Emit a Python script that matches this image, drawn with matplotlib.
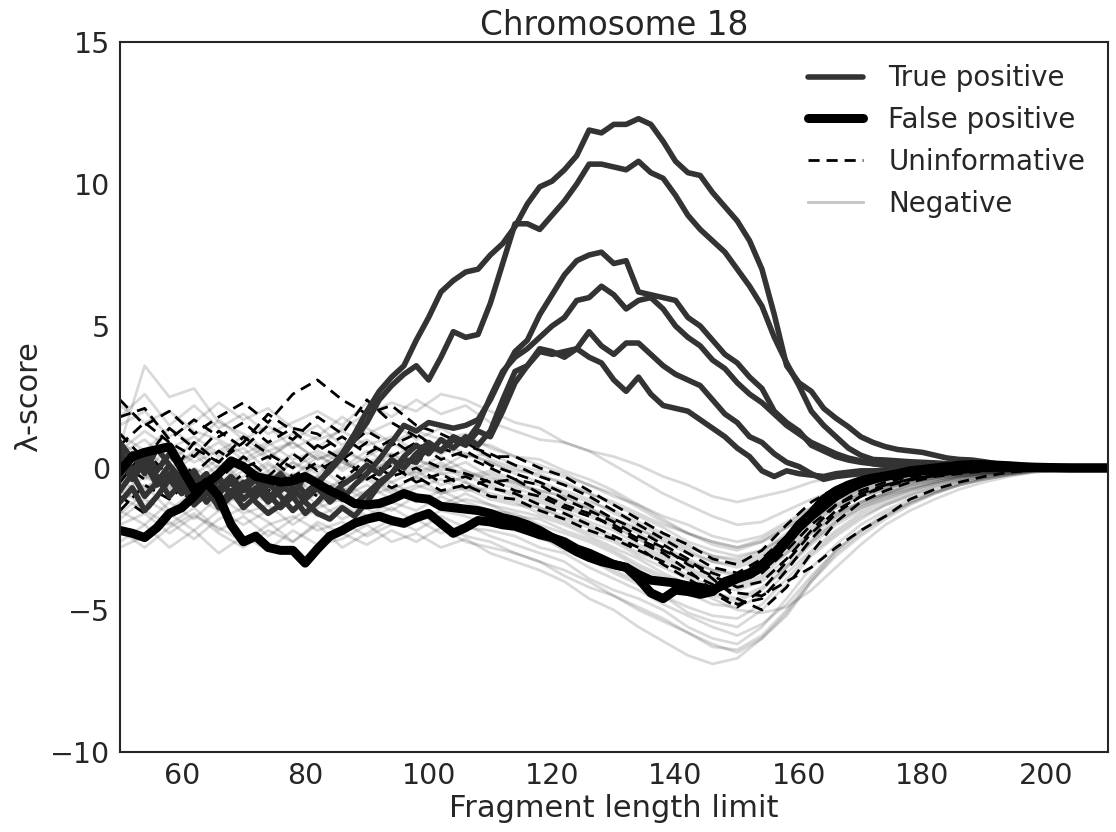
import numpy as np
import matplotlib
matplotlib.use('Agg')
import matplotlib.pyplot as plt
from matplotlib.lines import Line2D

# fragment length grids
x_fine = np.arange(50, 211, 2)     # true / false positives
x_coarse = np.arange(50, 211, 4)   # negatives / uninformative

# true positives (dark grey, thick)
true_positive = [
    [0.3, -0.4, 0.2, -0.6, -0.2, -0.9, -0.5, -1.2, -0.7, -0.3,
     -0.8, -0.4, -1.1, -0.6, -0.9, -0.3, -0.6, 0.0, 0.5, 1.2,
     2.0, 2.7, 3.2, 3.6, 4.5, 5.3, 6.2, 6.6, 6.9, 7.0,
     7.5, 7.9, 8.5, 9.3, 9.9, 10.1, 10.5, 11.0, 11.9, 11.8,
     12.1, 12.1, 12.3, 12.1, 11.5, 10.8, 10.4, 10.3, 9.7, 9.2,
     8.7, 8.0, 7.0, 5.4, 3.6, 3.0, 2.7, 2.1, 1.75, 1.45,
     1.1, 0.9, 0.75, 0.65, 0.6, 0.55, 0.45, 0.35, 0.3, 0.28,
     0.22, 0.15, 0.1, 0.06, 0.04, 0.02, 0.01, 0.0, 0.0, 0.0,
     0.0],
    [-0.8, -0.2, -1.0, -0.5, 0.1, -0.4, -1.1, -0.7, -1.4, -1.0,
     -0.6, -1.2, -1.6, -1.3, -0.8, -1.1, -0.5, -0.1, 0.4, 1.0,
     1.6, 2.4, 2.9, 3.3, 3.6, 3.1, 3.9, 4.8, 4.6, 4.7,
     5.8, 7.2, 8.6, 8.6, 8.4, 8.9, 9.4, 10.0, 10.7, 10.7,
     10.6, 10.5, 10.8, 10.4, 10.2, 9.6, 8.9, 8.4, 8.0, 7.6,
     7.0, 6.4, 5.7, 4.6, 3.7, 2.9, 2.0, 1.5, 1.1, 0.7,
     0.45, 0.3, 0.28, 0.25, 0.22, 0.2, 0.18, 0.15, 0.12, 0.1,
     0.08, 0.06, 0.05, 0.03, 0.02, 0.01, 0.0, 0.0, 0.0, 0.0,
     0.0],
    [-0.3, 0.5, -0.2, 0.7, 0.1, -0.6, -0.1, -0.8, -0.3, -1.0,
     -0.6, -0.2, -0.9, -1.4, -1.0, -1.6, -1.2, -0.7, -1.1, -0.6,
     -0.2, 0.3, 0.9, 1.5, 1.3, 1.6, 1.5, 1.4, 1.5, 1.7,
     2.4, 3.3, 4.1, 4.5, 5.4, 6.1, 6.8, 7.3, 7.5, 7.6,
     7.2, 7.3, 6.2, 6.1, 6.0, 5.9, 5.3, 5.0, 4.5, 4.0,
     3.7, 3.2, 2.8, 2.0, 1.6, 1.3, 0.8, 0.6, 0.4, 0.28,
     0.2, 0.15, 0.1, 0.08, 0.06, 0.05, 0.04, 0.03, 0.02, 0.02,
     0.01, 0.01, 0.0, 0.0, 0.0, 0.0, 0.0, 0.0, 0.0, 0.0,
     0.0],
    [0.6, -0.1, 0.4, -0.3, -1.0, -0.5, -1.3, -0.9, -0.4, -0.9,
     -0.5, -1.0, -0.6, -0.2, -0.7, -1.2, -1.6, -1.8, -1.4, -1.7,
     -1.2, -0.6, -0.2, 0.3, 0.2, 0.8, 0.6, 1.1, 0.9, 1.5,
     2.5, 3.4, 3.9, 4.2, 4.6, 5.0, 5.3, 5.9, 6.0, 6.4,
     6.1, 5.6, 5.9, 6.0, 5.6, 5.0, 4.6, 4.3, 3.8, 3.5,
     3.0, 2.6, 2.3, 1.9, 1.5, 1.2, 0.9, 0.7, 0.5, 0.35,
     0.25, 0.15, 0.1, 0.05, 0.02, 0.0, 0.0, 0.0, 0.0, 0.0,
     0.0, 0.0, 0.0, 0.0, 0.0, 0.0, 0.0, 0.0, 0.0, 0.0,
     0.0],
    [-1.2, -0.7, -1.5, -1.0, -0.4, -0.9, -0.3, -0.8, -1.3, -0.8,
     -1.4, -1.0, -0.5, -1.0, -1.5, -1.1, -0.7, -1.2, -0.8, -1.3,
     -0.9, -0.5, -0.2, 0.4, 0.8, 0.5, 1.0, 0.7, 1.1, 0.8,
     1.3, 2.4, 3.4, 3.6, 4.2, 4.1, 3.9, 4.2, 4.8, 4.3,
     4.0, 4.4, 4.4, 4.0, 3.6, 3.3, 3.1, 2.9, 2.4, 1.9,
     1.6, 1.1, 0.9, 0.5, 0.2, 0.05, -0.2, -0.4, -0.3, -0.25,
     -0.2, -0.15, -0.1, -0.08, -0.06, -0.05, -0.04, -0.03, -0.02, -0.02,
     -0.01, -0.01, 0.0, 0.0, 0.0, 0.0, 0.0, 0.0, 0.0, 0.0,
     0.0],
    [0.9, 0.3, 0.6, -0.1, 0.5, 0.0, -0.6, -0.2, -0.9, -0.5,
     -1.1, -0.7, -1.2, -0.8, -0.4, -0.9, -0.5, -1.0, -0.6, -0.3,
     0.1, -0.2, 0.3, 0.0, 0.5, 0.9, 0.6, 1.0, 0.8, 1.3,
     1.1, 2.0, 3.0, 3.6, 4.1, 4.0, 4.1, 4.2, 3.9, 3.7,
     3.1, 2.7, 3.2, 2.6, 2.2, 2.1, 2.0, 1.7, 1.4, 1.1,
     0.7, 0.4, -0.1, -0.3, -0.1, -0.2, -0.25, -0.3, -0.2, -0.15,
     -0.1, -0.1, -0.08, -0.06, -0.05, -0.04, -0.03, -0.02, -0.02, -0.01,
     0.0, 0.0, 0.0, 0.0, 0.0, 0.0, 0.0, 0.0, 0.0, 0.0,
     0.0],
]

# false positives (black, thickest)
false_positive = [
    [-2.2, -2.3, -2.45, -2.1, -1.6, -1.4, -1.0, -0.5, -1.0, -2.0,
     -2.6, -2.4, -2.8, -2.9, -2.9, -3.35, -2.85, -2.4, -2.2, -1.95,
     -1.8, -1.7, -1.85, -1.95, -1.75, -1.6, -1.95, -2.3, -2.1, -1.85,
     -1.9, -2.0, -2.05, -2.2, -2.35, -2.45, -2.7, -2.95, -3.15, -3.3,
     -3.4, -3.5, -3.9, -4.4, -4.6, -4.3, -4.35, -4.45, -4.35, -4.0,
     -3.85, -3.7, -3.4, -3.0, -2.55, -2.0, -1.6, -1.1, -0.8, -0.6,
     -0.45, -0.35, -0.28, -0.2, -0.1, -0.05, 0.0, 0.05, 0.1, 0.12,
     0.12, 0.1, 0.08, 0.05, 0.03, 0.02, 0.01, 0.0, 0.0, 0.0,
     0.0],
    [-0.1, 0.4, 0.55, 0.65, 0.75, 0.0, -0.75, -0.55, -0.2, 0.25,
     0.05, -0.3, -0.4, -0.5, -0.45, -0.3, -0.55, -0.8, -1.0, -1.25,
     -1.3, -1.25, -1.1, -0.9, -1.05, -1.1, -1.35, -1.4, -1.45, -1.5,
     -1.6, -1.75, -1.85, -2.0, -2.2, -2.45, -2.6, -2.85, -3.0, -3.2,
     -3.4, -3.5, -3.75, -3.95, -4.0, -4.05, -4.15, -4.2, -4.3, -4.1,
     -3.9, -3.75, -3.5, -3.1, -2.6, -2.1, -1.7, -1.35, -1.0, -0.75,
     -0.55, -0.4, -0.3, -0.22, -0.15, -0.1, -0.05, -0.02, 0.0, 0.02,
     0.03, 0.03, 0.02, 0.02, 0.01, 0.0, 0.0, 0.0, 0.0, 0.0,
     0.0],
]

# uninformative (black dashed)
uninformative = [
    [2.4, 1.5, 2.0, 1.2, 1.8, 2.3, 1.6, 2.6, 3.1, 2.4,
     1.9, 2.2, 1.5, 1.2, 0.8, 0.5, 0.1, -0.3, -0.6, -1.0,
     -1.5, -2.0, -2.5, -3.0, -3.5, -3.7, -3.2, -2.4, -1.5, -0.9,
     -0.6, -0.4, -0.25, -0.15, -0.1, -0.05, 0, 0, 0, 0, 0],
    [0.8, 1.6, 0.9, 0.4, 1.3, 0.7, 1.5, 1.0, 1.8, 1.2,
     2.4, 1.6, 1.1, 0.7, 0.4, 0.0, -0.4, -0.6, -1.1, -1.5,
     -1.9, -2.4, -2.8, -3.4, -3.8, -4.2, -4.0, -3.2, -2.2, -1.3,
     -0.8, -0.5, -0.3, -0.2, -0.1, -0.05, -0.02, 0, 0, 0, 0],
    [-0.5, 0.6, -0.3, 0.9, 0.2, 1.1, 0.5, 0.0, 0.8, 0.3,
     0.9, 0.4, 0.9, 0.3, 0.6, 0.1, -0.2, -0.5, -0.9, -1.3,
     -1.8, -2.2, -2.7, -3.2, -3.9, -4.6, -5.0, -4.2, -3.0, -1.9,
     -1.2, -0.8, -0.5, -0.3, -0.2, -0.1, -0.05, -0.02, 0, 0, 0],
    [-1.5, -0.6, -1.1, -0.3, -0.9, -0.2, -0.8, -0.4, -1.0, -0.5,
     -0.2, -0.7, -0.3, -0.8, -0.6, -1.0, -1.1, -1.5, -1.8, -2.2,
     -2.5, -2.9, -3.3, -3.7, -4.1, -4.4, -4.5, -4.0, -3.5, -2.8,
     -2.2, -1.7, -1.1, -0.75, -0.5, -0.3, -0.15, -0.08, -0.03, 0, 0],
    [1.2, 0.3, 1.4, 0.7, 0.2, 0.9, 1.9, 1.3, 0.6, 1.1,
     0.5, 1.0, 0.4, 0.0, -0.2, -0.5, -0.4, -0.9, -1.3, -1.6,
     -2.1, -2.6, -3.0, -3.6, -4.3, -4.8, -4.6, -3.6, -2.5, -1.6,
     -1.0, -0.6, -0.4, -0.25, -0.15, -0.08, -0.04, -0.02, 0, 0, 0],
    [-1.0, -1.6, -0.5, -1.2, -0.4, 0.4, -0.3, 0.5, -0.1, 0.4,
     -0.4, 0.1, -0.5, -0.2, -0.7, -0.4, -0.8, -1.0, -1.4, -1.7,
     -2.0, -2.5, -2.9, -3.3, -3.7, -4.0, -3.7, -2.9, -2.0, -1.3,
     -0.9, -0.6, -0.4, -0.25, -0.15, -0.08, -0.04, -0.02, 0, 0, 0],
    [1.8, 2.1, 1.0, 1.7, 1.1, 1.6, 0.9, 1.4, 1.2, 0.6,
     1.3, 0.8, 1.2, 0.6, 0.9, 0.4, 0.4, 0.0, -0.3, -0.8,
     -1.3, -1.8, -2.3, -2.7, -3.2, -3.4, -2.9, -2.0, -1.2, -0.7,
     -0.45, -0.3, -0.2, -0.12, -0.07, -0.04, -0.02, 0, 0, 0, 0],
    [0.2, -0.4, 0.5, -0.2, 0.6, 0.0, 0.4, -0.3, 0.2, -0.4,
     0.3, -0.3, 0.0, -0.5, -0.3, -0.7, -0.9, -1.3, -1.6, -2.0,
     -2.4, -2.8, -3.4, -3.9, -4.4, -4.9, -4.3, -3.3, -2.3, -1.5,
     -1.0, -0.65, -0.42, -0.27, -0.16, -0.09, -0.04, -0.02, 0, 0, 0],
]

# negatives (light grey, transparent)
negative = [
    [1.8, 2.6, 1.5, 2.2, 1.4, 1.9, 1.2, 1.6, 2.0, 1.5,
     2.3, 1.8, 2.4, 1.9, 2.2, 1.6, 1.3, 1.0, 0.9, 0.6,
     0.4, 0.1, -0.3, -0.6, -1.0, -1.2, -1.0, -0.8, -0.5, -0.3,
     -0.2, -0.15, -0.1, -0.05, -0.05, 0, 0, 0, 0, 0, 0],
    [-2.6, -2.0, -2.8, -2.2, -3.0, -2.4, -2.9, -2.2, -2.7, -2.5,
     -2.0, -2.6, -2.3, -2.8, -2.5, -3.0, -3.3, -3.6, -4.0, -4.6,
     -5.0, -5.6, -6.1, -6.6, -6.9, -6.7, -6.0, -5.2, -4.0, -3.1,
     -2.4, -1.8, -1.3, -0.9, -0.6, -0.4, -0.25, -0.15, -0.08, -0.03, 0],
    [0.8, 3.6, 2.5, 2.8, 1.6, 1.2, 0.6, 0.9, 0.3, 0.7,
     0.2, 0.5, 0.1, -0.2, -0.1, -0.5, -0.7, -1.0, -1.3, -1.6,
     -2.0, -2.5, -2.9, -3.3, -3.8, -4.1, -3.8, -3.0, -2.3, -1.7,
     -1.2, -0.9, -0.6, -0.4, -0.3, -0.2, -0.1, -0.05, -0.02, 0, 0],
    [-1.5, -2.0, -1.2, -1.8, -1.0, -1.6, -1.3, -2.0, -1.4, -1.1,
     -1.7, -1.2, -1.5, -1.0, -1.4, -1.8, -2.0, -2.5, -2.7, -3.2,
     -3.6, -4.0, -4.5, -5.1, -5.4, -5.6, -5.0, -4.1, -3.1, -2.4,
     -1.8, -1.3, -1.0, -0.7, -0.45, -0.3, -0.2, -0.1, -0.05, -0.02, 0],
    [0.2, -0.4, 0.5, -0.2, 0.3, -0.5, 0.1, -0.3, 0.4, 0.0,
     0.6, 0.1, 0.3, -0.1, 0.2, -0.3, -0.6, -0.8, -1.0, -1.5,
     -1.8, -2.1, -2.6, -3.0, -3.3, -3.5, -3.2, -2.7, -2.0, -1.4,
     -1.0, -0.8, -0.5, -0.35, -0.25, -0.15, -0.1, -0.05, -0.02, 0, 0],
    [-0.8, -1.3, -0.6, -1.1, -0.4, -0.9, -0.2, -0.7, -0.3, -0.8,
     -0.4, -0.9, -0.6, -0.9, -0.7, -1.1, -1.3, -1.4, -1.8, -2.1,
     -2.5, -3.0, -3.3, -3.8, -4.2, -4.3, -4.0, -3.4, -2.6, -1.9,
     -1.4, -1.1, -0.8, -0.55, -0.35, -0.25, -0.15, -0.08, -0.04, -0.01, 0],
    [1.2, 0.6, 1.4, 0.8, 1.7, 1.0, 1.5, 0.7, 1.1, 1.8,
     1.2, 1.6, 1.0, 1.4, 0.9, 0.8, 0.4, 0.3, -0.1, -0.4,
     -0.8, -1.3, -1.7, -2.0, -2.4, -2.6, -2.4, -1.9, -1.4, -1.0,
     -0.7, -0.5, -0.35, -0.25, -0.15, -0.1, -0.05, -0.03, 0, 0, 0],
    [-2.0, -1.6, -2.3, -1.7, -2.1, -2.6, -2.0, -1.7, -2.2, -1.9,
     -2.4, -2.0, -1.8, -2.3, -2.0, -2.4, -2.7, -3.0, -3.3, -3.9,
     -4.3, -4.6, -5.0, -5.6, -6.0, -6.2, -5.6, -4.6, -3.5, -2.7,
     -2.0, -1.5, -1.1, -0.8, -0.5, -0.35, -0.2, -0.1, -0.05, -0.02, 0],
    [0.5, 1.0, 0.2, 0.9, 0.4, 0.7, -0.1, 0.5, 0.0, 0.6,
     1.0, 0.4, 0.8, 0.5, 0.9, 0.3, 0.0, -0.3, -0.5, -0.9,
     -1.3, -1.7, -2.1, -2.6, -2.9, -3.1, -2.9, -2.4, -1.8, -1.3,
     -0.9, -0.7, -0.45, -0.3, -0.2, -0.12, -0.07, -0.03, -0.01, 0, 0],
    [-1.2, -0.6, -1.5, -0.8, -1.3, -0.6, -1.0, -1.4, -0.9, -0.5,
     -1.0, -0.7, -1.2, -0.8, -1.2, -1.5, -1.6, -2.0, -2.3, -2.6,
     -3.0, -3.5, -3.9, -4.4, -4.8, -4.9, -4.5, -3.7, -2.9, -2.2,
     -1.6, -1.2, -0.9, -0.6, -0.4, -0.25, -0.15, -0.08, -0.04, -0.01, 0],
    [2.2, 1.6, 2.0, 1.3, 1.0, 0.5, 0.9, 0.3, 0.6, 0.2,
     -0.2, 0.3, 0.0, 0.4, -0.1, -0.4, -0.5, -0.9, -1.2, -1.4,
     -1.9, -2.3, -2.8, -3.2, -3.6, -3.8, -3.5, -2.9, -2.2, -1.6,
     -1.2, -0.9, -0.6, -0.4, -0.28, -0.18, -0.1, -0.05, -0.02, 0, 0],
    [-0.3, 0.3, -0.2, 0.4, 0.9, 0.3, 0.8, 1.2, 0.7, 1.4,
     1.9, 2.3, 2.0, 2.6, 2.4, 2.0, 1.6, 1.4, 0.9, 0.6,
     0.1, -0.4, -0.9, -1.3, -1.7, -2.0, -1.9, -1.5, -1.1, -0.8,
     -0.6, -0.4, -0.3, -0.2, -0.12, -0.08, -0.04, -0.02, 0, 0, 0],
    [-0.4, -1.0, -0.3, -0.7, -1.2, -0.5, -0.8, -0.2, -0.6, -1.0,
     -0.6, -1.1, -0.7, -0.4, -0.8, -0.7, -1.0, -1.2, -1.5, -1.9,
     -2.2, -2.7, -3.1, -3.5, -3.9, -4.0, -3.6, -3.0, -2.3, -1.7,
     -1.3, -1.0, -0.7, -0.5, -0.3, -0.2, -0.12, -0.06, -0.03, -0.01, 0],
    [-2.8, -2.4, -1.9, -2.5, -1.8, -1.4, -1.9, -2.6, -2.0, -2.8,
     -2.3, -1.8, -2.2, -1.7, -2.1, -2.2, -2.4, -2.8, -3.0, -3.5,
     -3.9, -4.3, -4.8, -5.2, -5.6, -5.9, -5.5, -4.8, -3.8, -2.9,
     -2.2, -1.7, -1.2, -0.85, -0.6, -0.4, -0.25, -0.12, -0.05, -0.02, 0],
    [0.9, 0.3, -0.1, 0.6, 0.0, 0.4, -0.4, 0.2, -0.2, 0.3,
     -0.1, 0.5, -0.2, 0.2, -0.3, -0.1, -0.4, -0.6, -0.9, -1.2,
     -1.5, -1.9, -2.3, -2.7, -3.1, -3.3, -3.0, -2.4, -1.8, -1.3,
     -0.95, -0.7, -0.5, -0.35, -0.22, -0.14, -0.08, -0.04, -0.02, 0, 0],
    [-0.6, -0.2, -0.9, -0.3, -0.8, -1.3, -0.7, -1.1, -0.5, -1.2,
     -0.8, -0.5, -1.0, -1.3, -0.9, -1.3, -1.5, -1.7, -2.0, -2.4,
     -2.8, -3.2, -3.7, -4.1, -4.6, -5.0, -5.1, -4.9, -4.3, -3.5,
     -2.7, -2.0, -1.5, -1.1, -0.75, -0.5, -0.3, -0.15, -0.07, -0.02, 0],
    [1.5, 2.0, 1.1, 1.6, 2.3, 1.7, 2.1, 1.4, 1.0, 1.3,
     0.8, 1.1, 0.6, 0.9, 0.5, 0.2, -0.1, -0.2, -0.6, -0.9,
     -1.2, -1.6, -2.0, -2.3, -2.7, -2.9, -2.6, -2.1, -1.5, -1.1,
     -0.8, -0.6, -0.4, -0.28, -0.18, -0.1, -0.06, -0.03, -0.01, 0, 0],
    [-1.8, -1.1, -1.6, -2.2, -1.5, -2.0, -1.5, -1.0, -1.7, -1.3,
     -1.8, -1.4, -1.9, -1.5, -1.7, -2.0, -2.2, -2.4, -2.9, -3.2,
     -3.7, -4.1, -4.5, -4.9, -5.2, -5.3, -4.8, -3.9, -3.0, -2.3,
     -1.7, -1.3, -0.95, -0.65, -0.45, -0.3, -0.18, -0.09, -0.04, -0.01, 0],
    [-0.1, 0.6, 0.0, 0.5, -0.3, 0.2, 0.6, 0.0, 0.5, -0.1,
     0.4, 0.9, 0.4, 0.7, 0.4, 0.5, 0.1, -0.1, -0.3, -0.6,
     -1.0, -1.3, -1.8, -2.3, -2.6, -2.8, -2.6, -2.1, -1.6, -1.1,
     -0.8, -0.6, -0.4, -0.27, -0.17, -0.1, -0.06, -0.03, -0.01, 0, 0],
    [-1.0, -1.5, -2.0, -1.4, -2.2, -1.7, -2.4, -1.8, -1.2, -1.8,
     -1.4, -2.0, -1.6, -2.0, -2.4, -2.6, -3.0, -3.3, -3.8, -4.2,
     -4.5, -5.0, -5.4, -5.8, -6.3, -6.4, -5.9, -5.0, -3.9, -2.9,
     -2.2, -1.6, -1.2, -0.85, -0.55, -0.35, -0.2, -0.1, -0.05, -0.02, 0],
    [-0.9, -0.3, -0.8, 0.0, -0.6, -0.1, -0.7, -0.4, -0.9, -0.4,
     0.0, -0.5, -0.1, -0.6, -0.3, -0.6, -0.9, -1.1, -1.4, -1.7,
     -2.1, -2.5, -3.0, -3.3, -3.6, -3.7, -3.4, -2.8, -2.1, -1.6,
     -1.2, -0.9, -0.6, -0.42, -0.28, -0.18, -0.1, -0.05, -0.02, 0, 0],
    [0.4, -0.2, 0.8, 0.2, 0.6, 1.1, 0.4, 0.9, 0.3, 0.6,
     0.2, -0.2, 0.3, 0.0, 0.5, 0.2, -0.2, -0.5, -0.8, -1.1,
     -1.6, -2.0, -2.4, -2.8, -3.1, -3.2, -2.9, -2.3, -1.7, -1.2,
     -0.9, -0.65, -0.45, -0.3, -0.2, -0.12, -0.07, -0.03, -0.01, 0, 0],
    [-0.5, 0.1, -0.7, -0.2, -0.9, -0.3, 0.2, -0.4, 0.1, -0.6,
     -0.2, 0.2, -0.4, -0.2, -0.5, -0.9, -1.1, -1.4, -1.7, -2.0,
     -2.4, -2.8, -3.2, -3.6, -4.0, -4.2, -3.9, -3.2, -2.5, -1.8,
     -1.3, -0.95, -0.7, -0.48, -0.32, -0.2, -0.12, -0.06, -0.02, 0, 0],
    [0.0, -0.7, -0.2, -0.9, -0.5, 0.1, -0.5, 0.2, -0.4, 0.3,
     -0.3, -0.8, -0.3, -0.9, -0.5, -1.0, -1.2, -1.6, -1.9, -2.3,
     -2.6, -3.1, -3.5, -3.9, -4.4, -4.6, -4.2, -3.5, -2.7, -2.0,
     -1.5, -1.1, -0.8, -0.55, -0.38, -0.24, -0.14, -0.07, -0.03, 0, 0],
    [-1.6, -0.9, -0.4, -1.0, -1.5, -0.8, -1.2, -0.6, -1.3, -0.7,
     -1.1, -1.5, -1.0, -1.4, -1.1, -1.3, -1.7, -1.8, -2.2, -2.5,
     -2.9, -3.4, -3.8, -4.2, -4.5, -4.7, -4.3, -3.5, -2.6, -1.9,
     -1.4, -1.0, -0.75, -0.5, -0.33, -0.21, -0.12, -0.06, -0.02, 0, 0],
    [0.6, 1.3, 0.7, 1.1, 0.5, 0.9, 0.3, 1.0, 1.5, 0.8,
     1.4, 0.9, 1.3, 1.0, 1.2, 0.7, 0.4, 0.1, -0.2, -0.6,
     -0.9, -1.4, -1.9, -2.3, -2.6, -2.8, -2.5, -2.0, -1.4, -1.0,
     -0.7, -0.5, -0.33, -0.22, -0.14, -0.08, -0.04, -0.02, 0, 0, 0],
    [-0.2, -0.8, 0.0, -0.5, 0.1, -0.6, -0.1, -0.9, -0.3, 0.2,
     -0.2, 0.3, -0.3, 0.1, -0.4, -0.2, -0.5, -0.8, -1.0, -1.4,
     -1.8, -2.2, -2.5, -2.9, -3.3, -3.4, -3.1, -2.5, -1.9, -1.4,
     -1.0, -0.75, -0.5, -0.35, -0.23, -0.14, -0.08, -0.04, -0.01, 0, 0],
    [-2.2, -2.8, -2.1, -1.6, -2.3, -2.8, -2.2, -2.6, -1.9, -2.3,
     -2.7, -2.2, -2.6, -2.1, -2.6, -2.8, -3.0, -3.3, -3.6, -4.0,
     -4.5, -4.9, -5.3, -5.8, -6.2, -6.5, -6.0, -5.1, -4.0, -3.0,
     -2.3, -1.7, -1.25, -0.9, -0.6, -0.4, -0.24, -0.12, -0.05, -0.02, 0],
]

plt.rcParams['font.family'] = ['DejaVu Sans']
plt.rcParams['text.color'] = '#262626'
plt.rcParams['axes.labelcolor'] = '#262626'
plt.rcParams['xtick.color'] = '#262626'
plt.rcParams['ytick.color'] = '#262626'

fig = plt.figure(figsize=(11.16, 8.32), dpi=100)
ax = fig.add_axes([0.1075, 0.0962, 0.885, 0.8533])

dash = (0, (4, 2.5))
for ys in negative:
    ax.plot(x_coarse, ys, color='k', alpha=0.15, lw=2)
for ys in uninformative:
    ax.plot(x_coarse, ys, color='k', lw=2, linestyle=dash)
for ys in true_positive:
    ax.plot(x_fine, ys, color='#333333', lw=4)
for ys in false_positive:
    ax.plot(x_fine, ys, color='k', lw=6.5)

ax.set_xlim(50, 210)
ax.set_ylim(-10, 15)
ax.set_xticks([60, 80, 100, 120, 140, 160, 180, 200])
ax.set_yticks([-10, -5, 0, 5, 10, 15])
ax.tick_params(length=0, labelsize=20.5, pad=7)
for sp in ax.spines.values():
    sp.set_color('#262626')
    sp.set_linewidth(1.5)

ax.set_xlabel('Fragment length limit', fontsize=22, labelpad=3)
ax.set_ylabel('\u03bb-score', fontsize=22, labelpad=5)
ax.set_title('Chromosome 18', fontsize=23.5, pad=4)

handles = [
    Line2D([], [], color='#333333', lw=4, solid_capstyle='round'),
    Line2D([], [], color='k', lw=6.5, solid_capstyle='round'),
    Line2D([], [], color='k', lw=2, linestyle=dash),
    Line2D([], [], color='#c4c4c4', lw=2),
]
labels = ['True positive', 'False positive', 'Uninformative', 'Negative']
ax.legend(handles, labels, loc='upper right', frameon=False, fontsize=20,
          handlelength=2.0, handletextpad=0.9, borderaxespad=0.4,
          labelspacing=0.5)

fig.savefig('out.png', dpi=100)
